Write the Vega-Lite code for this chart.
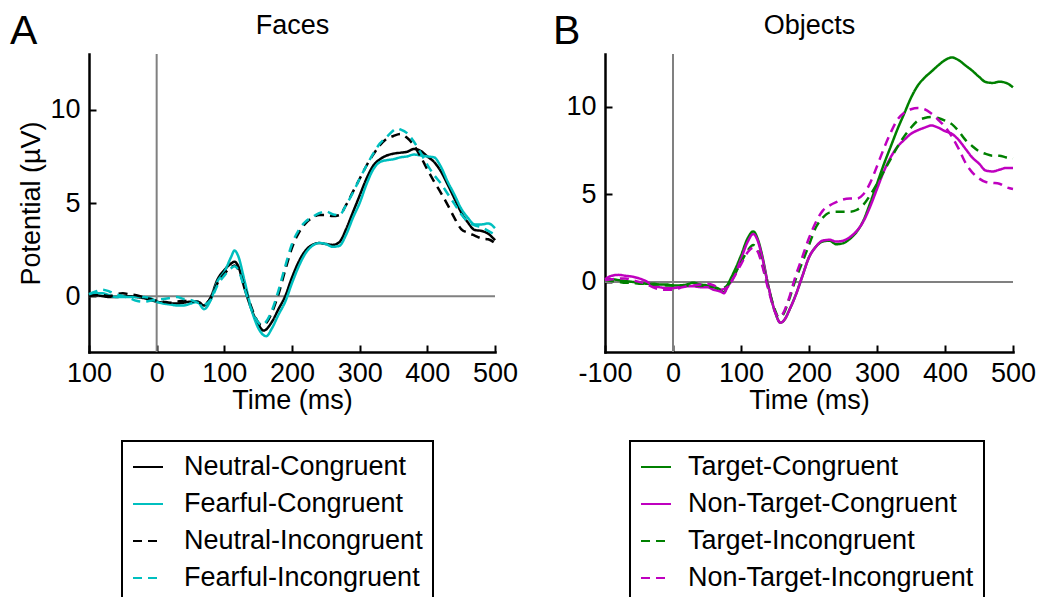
{
  "$schema": "https://vega.github.io/schema/vega-lite/v6.json",
  "background": "white",
  "autosize": {"type": "pad"},
  "padding": {"left": 10, "top": 11, "right": 5, "bottom": 5},
  "bounds": "flush",
  "spacing": 110,
  "config": {
    "font": "Liberation Sans",
    "view": {"stroke": null},
    "axis": {
      "grid": false,
      "domainColor": "black",
      "domainWidth": 2.5,
      "domainCap": "square",
      "tickColor": "black",
      "tickWidth": 2,
      "tickSize": -7,
      "labelFont": "Liberation Sans",
      "labelFontSize": 27,
      "labelColor": "black",
      "labelFlush": false,
      "labelOverlap": false,
      "titleFont": "Liberation Sans",
      "titleFontSize": 27,
      "titleFontWeight": "normal",
      "titleColor": "black"
    },
    "title": {"font": "Liberation Sans", "fontWeight": "normal", "color": "black"}
  },
  "resolve": {
    "scale": {"color": "independent", "strokeDash": "independent"},
    "legend": {"color": "independent", "strokeDash": "independent"}
  },
  "datasets": {
    "faces": [
      {"c": "Neutral-Congruent", "t": -100, "v": 0.05}, {"c": "Neutral-Congruent", "t": -90, "v": 0.05}, {"c": "Neutral-Congruent", "t": -80, "v": 0.0}, {"c": "Neutral-Congruent", "t": -70, "v": -0.05}, {"c": "Neutral-Congruent", "t": -60, "v": -0.05}, {"c": "Neutral-Congruent", "t": -50, "v": 0.0}, {"c": "Neutral-Congruent", "t": -40, "v": 0.0}, {"c": "Neutral-Congruent", "t": -30, "v": -0.05}, {"c": "Neutral-Congruent", "t": -20, "v": -0.1}, {"c": "Neutral-Congruent", "t": -10, "v": -0.2}, {"c": "Neutral-Congruent", "t": 0, "v": -0.3}, {"c": "Neutral-Congruent", "t": 10, "v": -0.35}, {"c": "Neutral-Congruent", "t": 20, "v": -0.4}, {"c": "Neutral-Congruent", "t": 30, "v": -0.4}, {"c": "Neutral-Congruent", "t": 40, "v": -0.35}, {"c": "Neutral-Congruent", "t": 50, "v": -0.3}, {"c": "Neutral-Congruent", "t": 60, "v": -0.3}, {"c": "Neutral-Congruent", "t": 70, "v": -0.5}, {"c": "Neutral-Congruent", "t": 80, "v": -0.05}, {"c": "Neutral-Congruent", "t": 90, "v": 0.9}, {"c": "Neutral-Congruent", "t": 100, "v": 1.4}, {"c": "Neutral-Congruent", "t": 110, "v": 1.75}, {"c": "Neutral-Congruent", "t": 115, "v": 1.85}, {"c": "Neutral-Congruent", "t": 120, "v": 1.65}, {"c": "Neutral-Congruent", "t": 130, "v": 0.4}, {"c": "Neutral-Congruent", "t": 140, "v": -0.7}, {"c": "Neutral-Congruent", "t": 150, "v": -1.5}, {"c": "Neutral-Congruent", "t": 158, "v": -1.85}, {"c": "Neutral-Congruent", "t": 170, "v": -1.4}, {"c": "Neutral-Congruent", "t": 180, "v": -0.7}, {"c": "Neutral-Congruent", "t": 190, "v": 0.0}, {"c": "Neutral-Congruent", "t": 200, "v": 1.0}, {"c": "Neutral-Congruent", "t": 210, "v": 1.85}, {"c": "Neutral-Congruent", "t": 220, "v": 2.45}, {"c": "Neutral-Congruent", "t": 230, "v": 2.75}, {"c": "Neutral-Congruent", "t": 240, "v": 2.85}, {"c": "Neutral-Congruent", "t": 250, "v": 2.8}, {"c": "Neutral-Congruent", "t": 260, "v": 2.75}, {"c": "Neutral-Congruent", "t": 270, "v": 2.9}, {"c": "Neutral-Congruent", "t": 280, "v": 3.6}, {"c": "Neutral-Congruent", "t": 290, "v": 4.5}, {"c": "Neutral-Congruent", "t": 300, "v": 5.4}, {"c": "Neutral-Congruent", "t": 310, "v": 6.3}, {"c": "Neutral-Congruent", "t": 320, "v": 7.0}, {"c": "Neutral-Congruent", "t": 330, "v": 7.35}, {"c": "Neutral-Congruent", "t": 340, "v": 7.55}, {"c": "Neutral-Congruent", "t": 350, "v": 7.65}, {"c": "Neutral-Congruent", "t": 360, "v": 7.7}, {"c": "Neutral-Congruent", "t": 370, "v": 7.75}, {"c": "Neutral-Congruent", "t": 380, "v": 7.9}, {"c": "Neutral-Congruent", "t": 390, "v": 7.8}, {"c": "Neutral-Congruent", "t": 400, "v": 7.5}, {"c": "Neutral-Congruent", "t": 410, "v": 7.2}, {"c": "Neutral-Congruent", "t": 420, "v": 6.7}, {"c": "Neutral-Congruent", "t": 430, "v": 6.0}, {"c": "Neutral-Congruent", "t": 440, "v": 5.25}, {"c": "Neutral-Congruent", "t": 450, "v": 4.5}, {"c": "Neutral-Congruent", "t": 460, "v": 3.95}, {"c": "Neutral-Congruent", "t": 470, "v": 3.55}, {"c": "Neutral-Congruent", "t": 480, "v": 3.5}, {"c": "Neutral-Congruent", "t": 490, "v": 3.35}, {"c": "Neutral-Congruent", "t": 500, "v": 3.0},

      {"c": "Fearful-Congruent", "t": -100, "v": 0.1}, {"c": "Fearful-Congruent", "t": -90, "v": 0.15}, {"c": "Fearful-Congruent", "t": -80, "v": 0.15}, {"c": "Fearful-Congruent", "t": -70, "v": 0.05}, {"c": "Fearful-Congruent", "t": -60, "v": -0.05}, {"c": "Fearful-Congruent", "t": -50, "v": -0.05}, {"c": "Fearful-Congruent", "t": -40, "v": -0.05}, {"c": "Fearful-Congruent", "t": -30, "v": -0.05}, {"c": "Fearful-Congruent", "t": -20, "v": -0.05}, {"c": "Fearful-Congruent", "t": -10, "v": -0.1}, {"c": "Fearful-Congruent", "t": 0, "v": -0.3}, {"c": "Fearful-Congruent", "t": 10, "v": -0.4}, {"c": "Fearful-Congruent", "t": 20, "v": -0.45}, {"c": "Fearful-Congruent", "t": 30, "v": -0.5}, {"c": "Fearful-Congruent", "t": 40, "v": -0.5}, {"c": "Fearful-Congruent", "t": 50, "v": -0.4}, {"c": "Fearful-Congruent", "t": 60, "v": -0.3}, {"c": "Fearful-Congruent", "t": 70, "v": -0.7}, {"c": "Fearful-Congruent", "t": 80, "v": -0.2}, {"c": "Fearful-Congruent", "t": 90, "v": 0.8}, {"c": "Fearful-Congruent", "t": 100, "v": 1.3}, {"c": "Fearful-Congruent", "t": 110, "v": 2.1}, {"c": "Fearful-Congruent", "t": 115, "v": 2.45}, {"c": "Fearful-Congruent", "t": 120, "v": 2.2}, {"c": "Fearful-Congruent", "t": 130, "v": 0.8}, {"c": "Fearful-Congruent", "t": 140, "v": -0.7}, {"c": "Fearful-Congruent", "t": 150, "v": -1.7}, {"c": "Fearful-Congruent", "t": 162, "v": -2.15}, {"c": "Fearful-Congruent", "t": 170, "v": -1.75}, {"c": "Fearful-Congruent", "t": 180, "v": -1.0}, {"c": "Fearful-Congruent", "t": 190, "v": -0.3}, {"c": "Fearful-Congruent", "t": 200, "v": 0.7}, {"c": "Fearful-Congruent", "t": 210, "v": 1.6}, {"c": "Fearful-Congruent", "t": 220, "v": 2.3}, {"c": "Fearful-Congruent", "t": 230, "v": 2.7}, {"c": "Fearful-Congruent", "t": 240, "v": 2.85}, {"c": "Fearful-Congruent", "t": 250, "v": 2.8}, {"c": "Fearful-Congruent", "t": 260, "v": 2.65}, {"c": "Fearful-Congruent", "t": 270, "v": 2.7}, {"c": "Fearful-Congruent", "t": 280, "v": 3.3}, {"c": "Fearful-Congruent", "t": 290, "v": 4.2}, {"c": "Fearful-Congruent", "t": 300, "v": 5.0}, {"c": "Fearful-Congruent", "t": 310, "v": 6.0}, {"c": "Fearful-Congruent", "t": 320, "v": 6.8}, {"c": "Fearful-Congruent", "t": 330, "v": 7.2}, {"c": "Fearful-Congruent", "t": 340, "v": 7.3}, {"c": "Fearful-Congruent", "t": 350, "v": 7.35}, {"c": "Fearful-Congruent", "t": 360, "v": 7.45}, {"c": "Fearful-Congruent", "t": 370, "v": 7.5}, {"c": "Fearful-Congruent", "t": 380, "v": 7.6}, {"c": "Fearful-Congruent", "t": 390, "v": 7.55}, {"c": "Fearful-Congruent", "t": 400, "v": 7.5}, {"c": "Fearful-Congruent", "t": 410, "v": 7.45}, {"c": "Fearful-Congruent", "t": 420, "v": 6.95}, {"c": "Fearful-Congruent", "t": 430, "v": 6.15}, {"c": "Fearful-Congruent", "t": 440, "v": 5.45}, {"c": "Fearful-Congruent", "t": 450, "v": 4.7}, {"c": "Fearful-Congruent", "t": 460, "v": 4.2}, {"c": "Fearful-Congruent", "t": 470, "v": 3.85}, {"c": "Fearful-Congruent", "t": 480, "v": 3.85}, {"c": "Fearful-Congruent", "t": 490, "v": 3.9}, {"c": "Fearful-Congruent", "t": 500, "v": 3.65},

      {"c": "Neutral-Incongruent", "t": -100, "v": 0.0}, {"c": "Neutral-Incongruent", "t": -90, "v": 0.05}, {"c": "Neutral-Incongruent", "t": -80, "v": 0.05}, {"c": "Neutral-Incongruent", "t": -70, "v": 0.0}, {"c": "Neutral-Incongruent", "t": -60, "v": 0.1}, {"c": "Neutral-Incongruent", "t": -50, "v": 0.15}, {"c": "Neutral-Incongruent", "t": -40, "v": 0.1}, {"c": "Neutral-Incongruent", "t": -30, "v": 0.05}, {"c": "Neutral-Incongruent", "t": -20, "v": -0.05}, {"c": "Neutral-Incongruent", "t": -10, "v": -0.15}, {"c": "Neutral-Incongruent", "t": 0, "v": -0.25}, {"c": "Neutral-Incongruent", "t": 10, "v": -0.3}, {"c": "Neutral-Incongruent", "t": 20, "v": -0.35}, {"c": "Neutral-Incongruent", "t": 30, "v": -0.3}, {"c": "Neutral-Incongruent", "t": 40, "v": -0.25}, {"c": "Neutral-Incongruent", "t": 50, "v": -0.3}, {"c": "Neutral-Incongruent", "t": 60, "v": -0.3}, {"c": "Neutral-Incongruent", "t": 70, "v": -0.45}, {"c": "Neutral-Incongruent", "t": 80, "v": -0.1}, {"c": "Neutral-Incongruent", "t": 90, "v": 0.7}, {"c": "Neutral-Incongruent", "t": 100, "v": 1.2}, {"c": "Neutral-Incongruent", "t": 110, "v": 1.55}, {"c": "Neutral-Incongruent", "t": 115, "v": 1.65}, {"c": "Neutral-Incongruent", "t": 120, "v": 1.5}, {"c": "Neutral-Incongruent", "t": 130, "v": 0.5}, {"c": "Neutral-Incongruent", "t": 140, "v": -0.6}, {"c": "Neutral-Incongruent", "t": 150, "v": -1.4}, {"c": "Neutral-Incongruent", "t": 155, "v": -1.55}, {"c": "Neutral-Incongruent", "t": 160, "v": -1.5}, {"c": "Neutral-Incongruent", "t": 170, "v": -0.9}, {"c": "Neutral-Incongruent", "t": 180, "v": 0.1}, {"c": "Neutral-Incongruent", "t": 190, "v": 1.4}, {"c": "Neutral-Incongruent", "t": 200, "v": 2.6}, {"c": "Neutral-Incongruent", "t": 210, "v": 3.4}, {"c": "Neutral-Incongruent", "t": 220, "v": 3.9}, {"c": "Neutral-Incongruent", "t": 230, "v": 4.2}, {"c": "Neutral-Incongruent", "t": 240, "v": 4.35}, {"c": "Neutral-Incongruent", "t": 250, "v": 4.35}, {"c": "Neutral-Incongruent", "t": 260, "v": 4.3}, {"c": "Neutral-Incongruent", "t": 270, "v": 4.35}, {"c": "Neutral-Incongruent", "t": 280, "v": 4.9}, {"c": "Neutral-Incongruent", "t": 290, "v": 5.6}, {"c": "Neutral-Incongruent", "t": 300, "v": 6.3}, {"c": "Neutral-Incongruent", "t": 310, "v": 7.0}, {"c": "Neutral-Incongruent", "t": 320, "v": 7.6}, {"c": "Neutral-Incongruent", "t": 330, "v": 8.1}, {"c": "Neutral-Incongruent", "t": 340, "v": 8.45}, {"c": "Neutral-Incongruent", "t": 350, "v": 8.6}, {"c": "Neutral-Incongruent", "t": 360, "v": 8.7}, {"c": "Neutral-Incongruent", "t": 370, "v": 8.5}, {"c": "Neutral-Incongruent", "t": 380, "v": 8.1}, {"c": "Neutral-Incongruent", "t": 390, "v": 7.5}, {"c": "Neutral-Incongruent", "t": 400, "v": 6.8}, {"c": "Neutral-Incongruent", "t": 410, "v": 6.15}, {"c": "Neutral-Incongruent", "t": 420, "v": 5.55}, {"c": "Neutral-Incongruent", "t": 430, "v": 4.9}, {"c": "Neutral-Incongruent", "t": 440, "v": 4.2}, {"c": "Neutral-Incongruent", "t": 450, "v": 3.6}, {"c": "Neutral-Incongruent", "t": 460, "v": 3.4}, {"c": "Neutral-Incongruent", "t": 470, "v": 3.25}, {"c": "Neutral-Incongruent", "t": 480, "v": 3.1}, {"c": "Neutral-Incongruent", "t": 490, "v": 3.05}, {"c": "Neutral-Incongruent", "t": 500, "v": 2.85},

      {"c": "Fearful-Incongruent", "t": -100, "v": 0.1}, {"c": "Fearful-Incongruent", "t": -90, "v": 0.25}, {"c": "Fearful-Incongruent", "t": -80, "v": 0.35}, {"c": "Fearful-Incongruent", "t": -70, "v": 0.25}, {"c": "Fearful-Incongruent", "t": -60, "v": 0.1}, {"c": "Fearful-Incongruent", "t": -50, "v": 0.0}, {"c": "Fearful-Incongruent", "t": -40, "v": -0.1}, {"c": "Fearful-Incongruent", "t": -30, "v": -0.25}, {"c": "Fearful-Incongruent", "t": -20, "v": -0.3}, {"c": "Fearful-Incongruent", "t": -10, "v": -0.25}, {"c": "Fearful-Incongruent", "t": 0, "v": -0.2}, {"c": "Fearful-Incongruent", "t": 10, "v": -0.15}, {"c": "Fearful-Incongruent", "t": 20, "v": -0.1}, {"c": "Fearful-Incongruent", "t": 30, "v": -0.05}, {"c": "Fearful-Incongruent", "t": 40, "v": -0.15}, {"c": "Fearful-Incongruent", "t": 50, "v": -0.2}, {"c": "Fearful-Incongruent", "t": 60, "v": -0.35}, {"c": "Fearful-Incongruent", "t": 70, "v": -0.45}, {"c": "Fearful-Incongruent", "t": 80, "v": -0.2}, {"c": "Fearful-Incongruent", "t": 90, "v": 0.6}, {"c": "Fearful-Incongruent", "t": 100, "v": 1.1}, {"c": "Fearful-Incongruent", "t": 110, "v": 1.5}, {"c": "Fearful-Incongruent", "t": 115, "v": 1.6}, {"c": "Fearful-Incongruent", "t": 120, "v": 1.45}, {"c": "Fearful-Incongruent", "t": 130, "v": 0.4}, {"c": "Fearful-Incongruent", "t": 140, "v": -0.7}, {"c": "Fearful-Incongruent", "t": 150, "v": -1.4}, {"c": "Fearful-Incongruent", "t": 155, "v": -1.55}, {"c": "Fearful-Incongruent", "t": 160, "v": -1.45}, {"c": "Fearful-Incongruent", "t": 170, "v": -0.8}, {"c": "Fearful-Incongruent", "t": 180, "v": 0.3}, {"c": "Fearful-Incongruent", "t": 190, "v": 1.6}, {"c": "Fearful-Incongruent", "t": 200, "v": 2.8}, {"c": "Fearful-Incongruent", "t": 210, "v": 3.55}, {"c": "Fearful-Incongruent", "t": 220, "v": 4.0}, {"c": "Fearful-Incongruent", "t": 230, "v": 4.25}, {"c": "Fearful-Incongruent", "t": 240, "v": 4.45}, {"c": "Fearful-Incongruent", "t": 250, "v": 4.55}, {"c": "Fearful-Incongruent", "t": 260, "v": 4.4}, {"c": "Fearful-Incongruent", "t": 270, "v": 4.35}, {"c": "Fearful-Incongruent", "t": 280, "v": 4.9}, {"c": "Fearful-Incongruent", "t": 290, "v": 5.55}, {"c": "Fearful-Incongruent", "t": 300, "v": 6.3}, {"c": "Fearful-Incongruent", "t": 310, "v": 7.0}, {"c": "Fearful-Incongruent", "t": 320, "v": 7.65}, {"c": "Fearful-Incongruent", "t": 330, "v": 8.2}, {"c": "Fearful-Incongruent", "t": 340, "v": 8.55}, {"c": "Fearful-Incongruent", "t": 350, "v": 8.9}, {"c": "Fearful-Incongruent", "t": 355, "v": 9.0}, {"c": "Fearful-Incongruent", "t": 360, "v": 8.95}, {"c": "Fearful-Incongruent", "t": 370, "v": 8.75}, {"c": "Fearful-Incongruent", "t": 380, "v": 8.3}, {"c": "Fearful-Incongruent", "t": 390, "v": 7.7}, {"c": "Fearful-Incongruent", "t": 400, "v": 7.05}, {"c": "Fearful-Incongruent", "t": 410, "v": 6.5}, {"c": "Fearful-Incongruent", "t": 420, "v": 6.05}, {"c": "Fearful-Incongruent", "t": 430, "v": 5.5}, {"c": "Fearful-Incongruent", "t": 440, "v": 4.95}, {"c": "Fearful-Incongruent", "t": 450, "v": 4.4}, {"c": "Fearful-Incongruent", "t": 460, "v": 4.0}, {"c": "Fearful-Incongruent", "t": 470, "v": 3.8}, {"c": "Fearful-Incongruent", "t": 480, "v": 3.7}, {"c": "Fearful-Incongruent", "t": 490, "v": 3.5}, {"c": "Fearful-Incongruent", "t": 500, "v": 3.3}
    ],
    "objects": [
      {"c": "Target-Congruent", "t": -100, "v": 0.1}, {"c": "Target-Congruent", "t": -90, "v": 0.15}, {"c": "Target-Congruent", "t": -80, "v": 0.1}, {"c": "Target-Congruent", "t": -70, "v": 0.05}, {"c": "Target-Congruent", "t": -60, "v": 0.0}, {"c": "Target-Congruent", "t": -50, "v": -0.05}, {"c": "Target-Congruent", "t": -40, "v": -0.1}, {"c": "Target-Congruent", "t": -30, "v": -0.1}, {"c": "Target-Congruent", "t": -20, "v": -0.15}, {"c": "Target-Congruent", "t": -10, "v": -0.15}, {"c": "Target-Congruent", "t": 0, "v": -0.2}, {"c": "Target-Congruent", "t": 10, "v": -0.2}, {"c": "Target-Congruent", "t": 20, "v": -0.15}, {"c": "Target-Congruent", "t": 30, "v": -0.05}, {"c": "Target-Congruent", "t": 40, "v": -0.15}, {"c": "Target-Congruent", "t": 50, "v": -0.2}, {"c": "Target-Congruent", "t": 60, "v": -0.3}, {"c": "Target-Congruent", "t": 70, "v": -0.45}, {"c": "Target-Congruent", "t": 75, "v": -0.6}, {"c": "Target-Congruent", "t": 80, "v": -0.2}, {"c": "Target-Congruent", "t": 90, "v": 0.6}, {"c": "Target-Congruent", "t": 100, "v": 1.5}, {"c": "Target-Congruent", "t": 110, "v": 2.5}, {"c": "Target-Congruent", "t": 118, "v": 2.88}, {"c": "Target-Congruent", "t": 125, "v": 2.4}, {"c": "Target-Congruent", "t": 130, "v": 1.7}, {"c": "Target-Congruent", "t": 140, "v": -0.2}, {"c": "Target-Congruent", "t": 150, "v": -1.7}, {"c": "Target-Congruent", "t": 158, "v": -2.33}, {"c": "Target-Congruent", "t": 165, "v": -2.1}, {"c": "Target-Congruent", "t": 170, "v": -1.7}, {"c": "Target-Congruent", "t": 180, "v": -0.8}, {"c": "Target-Congruent", "t": 190, "v": 0.3}, {"c": "Target-Congruent", "t": 200, "v": 1.4}, {"c": "Target-Congruent", "t": 210, "v": 2.0}, {"c": "Target-Congruent", "t": 220, "v": 2.3}, {"c": "Target-Congruent", "t": 230, "v": 2.35}, {"c": "Target-Congruent", "t": 240, "v": 2.15}, {"c": "Target-Congruent", "t": 250, "v": 2.2}, {"c": "Target-Congruent", "t": 260, "v": 2.45}, {"c": "Target-Congruent", "t": 270, "v": 2.85}, {"c": "Target-Congruent", "t": 280, "v": 3.5}, {"c": "Target-Congruent", "t": 290, "v": 4.5}, {"c": "Target-Congruent", "t": 300, "v": 5.6}, {"c": "Target-Congruent", "t": 310, "v": 6.7}, {"c": "Target-Congruent", "t": 320, "v": 7.7}, {"c": "Target-Congruent", "t": 330, "v": 8.7}, {"c": "Target-Congruent", "t": 340, "v": 9.6}, {"c": "Target-Congruent", "t": 350, "v": 10.5}, {"c": "Target-Congruent", "t": 360, "v": 11.2}, {"c": "Target-Congruent", "t": 370, "v": 11.65}, {"c": "Target-Congruent", "t": 380, "v": 12.0}, {"c": "Target-Congruent", "t": 390, "v": 12.35}, {"c": "Target-Congruent", "t": 400, "v": 12.65}, {"c": "Target-Congruent", "t": 410, "v": 12.8}, {"c": "Target-Congruent", "t": 420, "v": 12.65}, {"c": "Target-Congruent", "t": 430, "v": 12.35}, {"c": "Target-Congruent", "t": 440, "v": 12.05}, {"c": "Target-Congruent", "t": 450, "v": 11.7}, {"c": "Target-Congruent", "t": 460, "v": 11.4}, {"c": "Target-Congruent", "t": 470, "v": 11.35}, {"c": "Target-Congruent", "t": 480, "v": 11.42}, {"c": "Target-Congruent", "t": 490, "v": 11.35}, {"c": "Target-Congruent", "t": 500, "v": 11.1},

      {"c": "Non-Target-Congruent", "t": -100, "v": 0.15}, {"c": "Non-Target-Congruent", "t": -90, "v": 0.35}, {"c": "Non-Target-Congruent", "t": -80, "v": 0.4}, {"c": "Non-Target-Congruent", "t": -70, "v": 0.35}, {"c": "Non-Target-Congruent", "t": -60, "v": 0.3}, {"c": "Non-Target-Congruent", "t": -50, "v": 0.2}, {"c": "Non-Target-Congruent", "t": -40, "v": 0.05}, {"c": "Non-Target-Congruent", "t": -30, "v": -0.2}, {"c": "Non-Target-Congruent", "t": -20, "v": -0.3}, {"c": "Non-Target-Congruent", "t": -10, "v": -0.35}, {"c": "Non-Target-Congruent", "t": 0, "v": -0.35}, {"c": "Non-Target-Congruent", "t": 10, "v": -0.3}, {"c": "Non-Target-Congruent", "t": 20, "v": -0.25}, {"c": "Non-Target-Congruent", "t": 30, "v": -0.25}, {"c": "Non-Target-Congruent", "t": 40, "v": -0.3}, {"c": "Non-Target-Congruent", "t": 50, "v": -0.3}, {"c": "Non-Target-Congruent", "t": 60, "v": -0.45}, {"c": "Non-Target-Congruent", "t": 70, "v": -0.55}, {"c": "Non-Target-Congruent", "t": 75, "v": -0.65}, {"c": "Non-Target-Congruent", "t": 80, "v": -0.3}, {"c": "Non-Target-Congruent", "t": 90, "v": 0.3}, {"c": "Non-Target-Congruent", "t": 100, "v": 1.3}, {"c": "Non-Target-Congruent", "t": 110, "v": 2.3}, {"c": "Non-Target-Congruent", "t": 118, "v": 2.73}, {"c": "Non-Target-Congruent", "t": 125, "v": 2.3}, {"c": "Non-Target-Congruent", "t": 130, "v": 1.6}, {"c": "Non-Target-Congruent", "t": 140, "v": -0.2}, {"c": "Non-Target-Congruent", "t": 150, "v": -1.7}, {"c": "Non-Target-Congruent", "t": 158, "v": -2.33}, {"c": "Non-Target-Congruent", "t": 165, "v": -2.1}, {"c": "Non-Target-Congruent", "t": 170, "v": -1.7}, {"c": "Non-Target-Congruent", "t": 180, "v": -0.8}, {"c": "Non-Target-Congruent", "t": 190, "v": 0.3}, {"c": "Non-Target-Congruent", "t": 200, "v": 1.4}, {"c": "Non-Target-Congruent", "t": 210, "v": 2.0}, {"c": "Non-Target-Congruent", "t": 220, "v": 2.35}, {"c": "Non-Target-Congruent", "t": 230, "v": 2.4}, {"c": "Non-Target-Congruent", "t": 240, "v": 2.3}, {"c": "Non-Target-Congruent", "t": 250, "v": 2.35}, {"c": "Non-Target-Congruent", "t": 260, "v": 2.55}, {"c": "Non-Target-Congruent", "t": 270, "v": 2.9}, {"c": "Non-Target-Congruent", "t": 280, "v": 3.45}, {"c": "Non-Target-Congruent", "t": 290, "v": 4.3}, {"c": "Non-Target-Congruent", "t": 300, "v": 5.3}, {"c": "Non-Target-Congruent", "t": 310, "v": 6.3}, {"c": "Non-Target-Congruent", "t": 320, "v": 7.1}, {"c": "Non-Target-Congruent", "t": 330, "v": 7.7}, {"c": "Non-Target-Congruent", "t": 340, "v": 8.1}, {"c": "Non-Target-Congruent", "t": 350, "v": 8.45}, {"c": "Non-Target-Congruent", "t": 360, "v": 8.65}, {"c": "Non-Target-Congruent", "t": 370, "v": 8.8}, {"c": "Non-Target-Congruent", "t": 380, "v": 8.92}, {"c": "Non-Target-Congruent", "t": 390, "v": 8.8}, {"c": "Non-Target-Congruent", "t": 400, "v": 8.6}, {"c": "Non-Target-Congruent", "t": 410, "v": 8.45}, {"c": "Non-Target-Congruent", "t": 420, "v": 8.1}, {"c": "Non-Target-Congruent", "t": 430, "v": 7.6}, {"c": "Non-Target-Congruent", "t": 440, "v": 7.1}, {"c": "Non-Target-Congruent", "t": 450, "v": 6.75}, {"c": "Non-Target-Congruent", "t": 460, "v": 6.35}, {"c": "Non-Target-Congruent", "t": 470, "v": 6.3}, {"c": "Non-Target-Congruent", "t": 480, "v": 6.4}, {"c": "Non-Target-Congruent", "t": 490, "v": 6.5}, {"c": "Non-Target-Congruent", "t": 500, "v": 6.5},

      {"c": "Target-Incongruent", "t": -100, "v": 0.1}, {"c": "Target-Incongruent", "t": -90, "v": 0.05}, {"c": "Target-Incongruent", "t": -80, "v": 0.0}, {"c": "Target-Incongruent", "t": -70, "v": -0.05}, {"c": "Target-Incongruent", "t": -60, "v": -0.05}, {"c": "Target-Incongruent", "t": -50, "v": -0.1}, {"c": "Target-Incongruent", "t": -40, "v": -0.1}, {"c": "Target-Incongruent", "t": -30, "v": -0.15}, {"c": "Target-Incongruent", "t": -20, "v": -0.15}, {"c": "Target-Incongruent", "t": -10, "v": -0.2}, {"c": "Target-Incongruent", "t": 0, "v": -0.2}, {"c": "Target-Incongruent", "t": 10, "v": -0.2}, {"c": "Target-Incongruent", "t": 20, "v": -0.2}, {"c": "Target-Incongruent", "t": 30, "v": -0.2}, {"c": "Target-Incongruent", "t": 40, "v": -0.2}, {"c": "Target-Incongruent", "t": 50, "v": -0.25}, {"c": "Target-Incongruent", "t": 60, "v": -0.3}, {"c": "Target-Incongruent", "t": 70, "v": -0.4}, {"c": "Target-Incongruent", "t": 80, "v": -0.2}, {"c": "Target-Incongruent", "t": 90, "v": 0.4}, {"c": "Target-Incongruent", "t": 100, "v": 1.1}, {"c": "Target-Incongruent", "t": 110, "v": 1.8}, {"c": "Target-Incongruent", "t": 118, "v": 2.1}, {"c": "Target-Incongruent", "t": 125, "v": 1.8}, {"c": "Target-Incongruent", "t": 130, "v": 1.2}, {"c": "Target-Incongruent", "t": 140, "v": -0.3}, {"c": "Target-Incongruent", "t": 150, "v": -1.6}, {"c": "Target-Incongruent", "t": 155, "v": -2.0}, {"c": "Target-Incongruent", "t": 160, "v": -1.95}, {"c": "Target-Incongruent", "t": 170, "v": -1.1}, {"c": "Target-Incongruent", "t": 180, "v": 0.1}, {"c": "Target-Incongruent", "t": 190, "v": 1.1}, {"c": "Target-Incongruent", "t": 200, "v": 2.1}, {"c": "Target-Incongruent", "t": 210, "v": 3.1}, {"c": "Target-Incongruent", "t": 220, "v": 3.65}, {"c": "Target-Incongruent", "t": 230, "v": 3.95}, {"c": "Target-Incongruent", "t": 240, "v": 4.0}, {"c": "Target-Incongruent", "t": 250, "v": 4.0}, {"c": "Target-Incongruent", "t": 260, "v": 4.0}, {"c": "Target-Incongruent", "t": 270, "v": 4.1}, {"c": "Target-Incongruent", "t": 280, "v": 4.4}, {"c": "Target-Incongruent", "t": 290, "v": 4.95}, {"c": "Target-Incongruent", "t": 300, "v": 5.6}, {"c": "Target-Incongruent", "t": 310, "v": 6.3}, {"c": "Target-Incongruent", "t": 320, "v": 7.0}, {"c": "Target-Incongruent", "t": 330, "v": 7.7}, {"c": "Target-Incongruent", "t": 340, "v": 8.3}, {"c": "Target-Incongruent", "t": 350, "v": 8.8}, {"c": "Target-Incongruent", "t": 360, "v": 9.2}, {"c": "Target-Incongruent", "t": 370, "v": 9.35}, {"c": "Target-Incongruent", "t": 380, "v": 9.4}, {"c": "Target-Incongruent", "t": 390, "v": 9.35}, {"c": "Target-Incongruent", "t": 400, "v": 9.2}, {"c": "Target-Incongruent", "t": 410, "v": 9.0}, {"c": "Target-Incongruent", "t": 420, "v": 8.6}, {"c": "Target-Incongruent", "t": 430, "v": 8.1}, {"c": "Target-Incongruent", "t": 440, "v": 7.75}, {"c": "Target-Incongruent", "t": 450, "v": 7.45}, {"c": "Target-Incongruent", "t": 460, "v": 7.3}, {"c": "Target-Incongruent", "t": 470, "v": 7.2}, {"c": "Target-Incongruent", "t": 480, "v": 7.2}, {"c": "Target-Incongruent", "t": 490, "v": 7.1}, {"c": "Target-Incongruent", "t": 500, "v": 7.05},

      {"c": "Non-Target-Incongruent", "t": -100, "v": 0.1}, {"c": "Non-Target-Incongruent", "t": -90, "v": 0.15}, {"c": "Non-Target-Incongruent", "t": -80, "v": 0.2}, {"c": "Non-Target-Incongruent", "t": -70, "v": 0.2}, {"c": "Non-Target-Incongruent", "t": -60, "v": 0.1}, {"c": "Non-Target-Incongruent", "t": -50, "v": 0.0}, {"c": "Non-Target-Incongruent", "t": -40, "v": -0.1}, {"c": "Non-Target-Incongruent", "t": -30, "v": -0.3}, {"c": "Non-Target-Incongruent", "t": -20, "v": -0.42}, {"c": "Non-Target-Incongruent", "t": -10, "v": -0.45}, {"c": "Non-Target-Incongruent", "t": 0, "v": -0.45}, {"c": "Non-Target-Incongruent", "t": 10, "v": -0.35}, {"c": "Non-Target-Incongruent", "t": 20, "v": -0.25}, {"c": "Non-Target-Incongruent", "t": 30, "v": -0.2}, {"c": "Non-Target-Incongruent", "t": 40, "v": -0.15}, {"c": "Non-Target-Incongruent", "t": 50, "v": -0.1}, {"c": "Non-Target-Incongruent", "t": 60, "v": -0.2}, {"c": "Non-Target-Incongruent", "t": 70, "v": -0.45}, {"c": "Non-Target-Incongruent", "t": 80, "v": -0.3}, {"c": "Non-Target-Incongruent", "t": 90, "v": 0.3}, {"c": "Non-Target-Incongruent", "t": 100, "v": 1.0}, {"c": "Non-Target-Incongruent", "t": 110, "v": 1.7}, {"c": "Non-Target-Incongruent", "t": 118, "v": 1.95}, {"c": "Non-Target-Incongruent", "t": 125, "v": 1.7}, {"c": "Non-Target-Incongruent", "t": 130, "v": 1.1}, {"c": "Non-Target-Incongruent", "t": 140, "v": -0.4}, {"c": "Non-Target-Incongruent", "t": 150, "v": -1.7}, {"c": "Non-Target-Incongruent", "t": 155, "v": -2.0}, {"c": "Non-Target-Incongruent", "t": 160, "v": -1.9}, {"c": "Non-Target-Incongruent", "t": 170, "v": -1.0}, {"c": "Non-Target-Incongruent", "t": 180, "v": 0.3}, {"c": "Non-Target-Incongruent", "t": 190, "v": 1.4}, {"c": "Non-Target-Incongruent", "t": 200, "v": 2.5}, {"c": "Non-Target-Incongruent", "t": 210, "v": 3.4}, {"c": "Non-Target-Incongruent", "t": 220, "v": 4.05}, {"c": "Non-Target-Incongruent", "t": 230, "v": 4.35}, {"c": "Non-Target-Incongruent", "t": 240, "v": 4.55}, {"c": "Non-Target-Incongruent", "t": 250, "v": 4.7}, {"c": "Non-Target-Incongruent", "t": 260, "v": 4.75}, {"c": "Non-Target-Incongruent", "t": 270, "v": 4.75}, {"c": "Non-Target-Incongruent", "t": 280, "v": 5.0}, {"c": "Non-Target-Incongruent", "t": 290, "v": 5.65}, {"c": "Non-Target-Incongruent", "t": 300, "v": 6.6}, {"c": "Non-Target-Incongruent", "t": 310, "v": 7.6}, {"c": "Non-Target-Incongruent", "t": 320, "v": 8.5}, {"c": "Non-Target-Incongruent", "t": 330, "v": 9.25}, {"c": "Non-Target-Incongruent", "t": 340, "v": 9.65}, {"c": "Non-Target-Incongruent", "t": 350, "v": 9.85}, {"c": "Non-Target-Incongruent", "t": 360, "v": 9.92}, {"c": "Non-Target-Incongruent", "t": 370, "v": 9.85}, {"c": "Non-Target-Incongruent", "t": 380, "v": 9.6}, {"c": "Non-Target-Incongruent", "t": 390, "v": 9.25}, {"c": "Non-Target-Incongruent", "t": 400, "v": 8.85}, {"c": "Non-Target-Incongruent", "t": 410, "v": 8.3}, {"c": "Non-Target-Incongruent", "t": 420, "v": 7.6}, {"c": "Non-Target-Incongruent", "t": 430, "v": 6.8}, {"c": "Non-Target-Incongruent", "t": 440, "v": 6.25}, {"c": "Non-Target-Incongruent", "t": 450, "v": 5.9}, {"c": "Non-Target-Incongruent", "t": 460, "v": 5.7}, {"c": "Non-Target-Incongruent", "t": 470, "v": 5.65}, {"c": "Non-Target-Incongruent", "t": 480, "v": 5.6}, {"c": "Non-Target-Incongruent", "t": 490, "v": 5.4}, {"c": "Non-Target-Incongruent", "t": 500, "v": 5.3}
    ]
  },
  "hconcat": [
    {
      "width": 406,
      "height": 298,
      "title": {"text": "A", "anchor": "start", "frame": "group", "dx": -79, "dy": 74, "offset": 0, "fontSize": 41, "baseline": "alphabetic"},
      "layer": [
        {
          "data": {"values": [{"t": 0}]},
          "mark": {"type": "rule", "color": "#808080", "strokeWidth": 2},
          "encoding": {
            "x": {"field": "t", "type": "quantitative", "scale": {"domain": [-100, 500], "nice": false},
              "axis": {"orient": "top", "title": "Faces", "labels": false, "ticks": false, "domain": false, "titlePadding": 21, "titleBaseline": "alphabetic"}}
          }
        },
        {
          "data": {"values": [{"v": 0}]},
          "mark": {"type": "rule", "color": "#808080", "strokeWidth": 2},
          "encoding": {"y": {"field": "v", "type": "quantitative"}}
        },
        {
          "data": {"name": "faces"},
          "mark": {"type": "line", "interpolate": "monotone", "strokeWidth": 2.5},
          "encoding": {
            "x": {"field": "t", "type": "quantitative",
              "axis": {"title": "Time (ms)", "values": [-100, 0, 100, 200, 300, 400, 500], "labelPadding": 15, "titlePadding": 1,
                "labelExpr": "datum.value == -100 ? '100' : replace(datum.label, '\u2212', '-')"}},
            "y": {"field": "v", "type": "quantitative", "scale": {"domain": [-3, 13], "nice": false},
              "axis": {"title": "Potential (µV)", "values": [0, 5, 10], "labelPadding": 16, "titlePadding": 4}},
            "color": {"field": "c", "type": "nominal", "sort": null,
              "scale": {"domain": ["Neutral-Congruent", "Fearful-Congruent", "Neutral-Incongruent", "Fearful-Incongruent"], "range": ["#000000", "#00BFBF", "#000000", "#00BFBF"]},
              "legend": {"orient": "none", "legendX": 33, "legendY": 387, "title": null, "strokeColor": "black", "fillColor": "white", "padding": 10, "labelFontSize": 27, "labelColor": "black", "labelFont": "Liberation Sans", "labelLimit": 0, "symbolType": "stroke", "symbolSize": 900, "symbolStrokeWidth": 2, "labelOffset": 20, "rowPadding": 8,
                "encode": {"legend": {"update": {"strokeWidth": {"value": 2}}}}}},
            "strokeDash": {"field": "c", "type": "nominal", "sort": null,
              "scale": {"domain": ["Neutral-Congruent", "Fearful-Congruent", "Neutral-Incongruent", "Fearful-Incongruent"], "range": [[1, 0], [1, 0], [9, 6], [9, 6]]},
              "legend": {"orient": "none", "legendX": 33, "legendY": 387, "title": null, "strokeColor": "black", "fillColor": "white", "padding": 10, "labelFontSize": 27, "labelColor": "black", "labelFont": "Liberation Sans", "labelLimit": 0, "symbolType": "stroke", "symbolSize": 900, "symbolStrokeWidth": 2, "labelOffset": 20, "rowPadding": 8,
                "encode": {"legend": {"update": {"strokeWidth": {"value": 2}}}}}}
          }
        }
      ],
      "resolve": {"axis": {"x": "independent"}}
    },
    {
      "width": 408,
      "height": 298,
      "title": {"text": "B", "anchor": "start", "frame": "group", "dx": -52, "dy": 74, "offset": 0, "fontSize": 41, "baseline": "alphabetic"},
      "layer": [
        {
          "data": {"values": [{"t": 0}]},
          "mark": {"type": "rule", "color": "#808080", "strokeWidth": 2},
          "encoding": {
            "x": {"field": "t", "type": "quantitative", "scale": {"domain": [-100, 500], "nice": false},
              "axis": {"orient": "top", "title": "Objects", "labels": false, "ticks": false, "domain": false, "titlePadding": 21, "titleBaseline": "alphabetic"}}
          }
        },
        {
          "data": {"values": [{"v": 0}]},
          "mark": {"type": "rule", "color": "#808080", "strokeWidth": 2},
          "encoding": {"y": {"field": "v", "type": "quantitative"}}
        },
        {
          "data": {"name": "objects"},
          "mark": {"type": "line", "interpolate": "monotone", "strokeWidth": 2.5},
          "encoding": {
            "x": {"field": "t", "type": "quantitative",
              "axis": {"title": "Time (ms)", "values": [-100, 0, 100, 200, 300, 400, 500], "labelPadding": 15, "titlePadding": 1,
                "labelExpr": "replace(datum.label, '\u2212', '-')"}},
            "y": {"field": "v", "type": "quantitative", "scale": {"domain": [-4, 13], "nice": false},
              "axis": {"title": null, "values": [0, 5, 10], "labelPadding": 16}},
            "color": {"field": "c", "type": "nominal", "sort": null,
              "scale": {"domain": ["Target-Congruent", "Non-Target-Congruent", "Target-Incongruent", "Non-Target-Incongruent"], "range": ["#008000", "#BF00BF", "#008000", "#BF00BF"]},
              "legend": {"orient": "none", "legendX": 25, "legendY": 387, "title": null, "strokeColor": "black", "fillColor": "white", "padding": 10, "labelFontSize": 27, "labelColor": "black", "labelFont": "Liberation Sans", "labelLimit": 0, "symbolType": "stroke", "symbolSize": 900, "symbolStrokeWidth": 2, "labelOffset": 16, "rowPadding": 8,
                "encode": {"legend": {"update": {"strokeWidth": {"value": 2}}}}}},
            "strokeDash": {"field": "c", "type": "nominal", "sort": null,
              "scale": {"domain": ["Target-Congruent", "Non-Target-Congruent", "Target-Incongruent", "Non-Target-Incongruent"], "range": [[1, 0], [1, 0], [9, 6], [9, 6]]},
              "legend": {"orient": "none", "legendX": 25, "legendY": 387, "title": null, "strokeColor": "black", "fillColor": "white", "padding": 10, "labelFontSize": 27, "labelColor": "black", "labelFont": "Liberation Sans", "labelLimit": 0, "symbolType": "stroke", "symbolSize": 900, "symbolStrokeWidth": 2, "labelOffset": 16, "rowPadding": 8,
                "encode": {"legend": {"update": {"strokeWidth": {"value": 2}}}}}}
          }
        }
      ],
      "resolve": {"axis": {"x": "independent"}}
    }
  ]
}
